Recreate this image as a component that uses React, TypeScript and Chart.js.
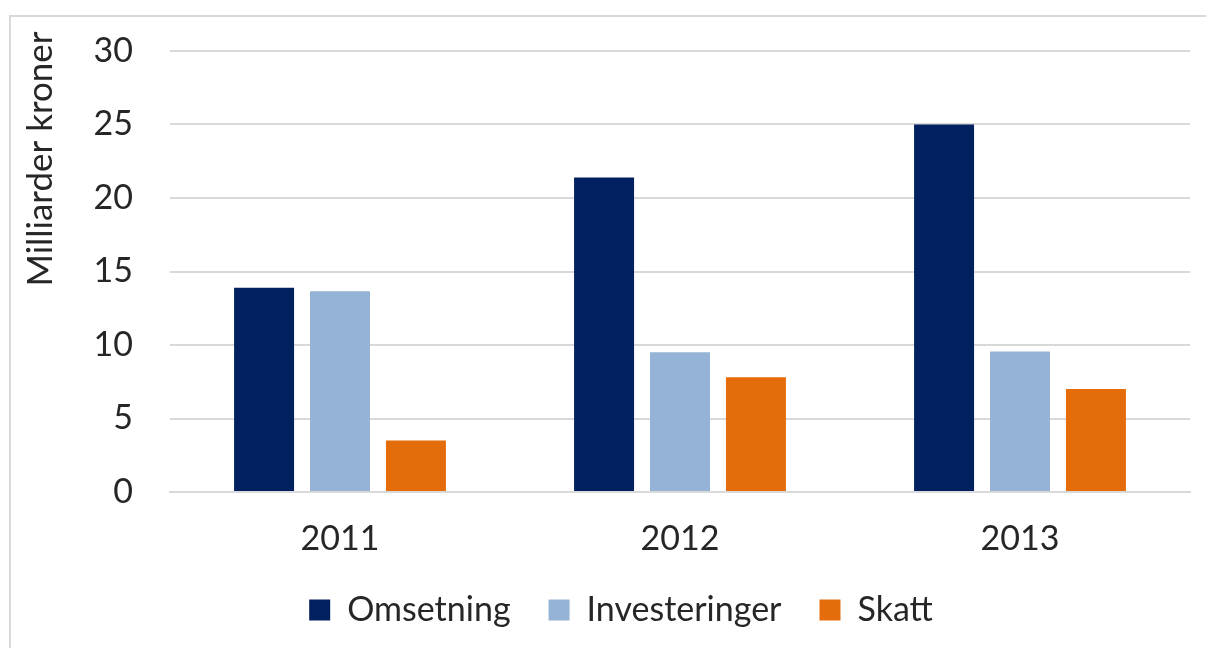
import React, { useEffect, useRef } from "react";
import { Chart, registerables } from "chart.js";

Chart.register(...registerables);

const categories: string[] = ["2011", "2012", "2013"];
const omsetning: number[] = [13.9, 21.4, 25.0];
const investeringer: number[] = [13.65, 9.5, 9.55];
const skatt: number[] = [3.5, 7.8, 7.0];
const seriesNames: string[] = ["Omsetning", "Investeringer", "Skatt"];
const yMin = 0;
const yMax = 30;
const yStep = 5;
const yTitle = "Milliarder kroner";

const FONT = "Lato, 'Noto Sans', sans-serif";
const TEXT = "#262626";
const FS = 34;

const yTitlePlugin = {
  id: "yTitlePlugin",
  afterDraw(chart: any) {
    const ctx = chart.ctx;
    ctx.save();
    ctx.translate(41, 159);
    ctx.rotate(-Math.PI / 2);
    ctx.font = `${FS + 1}px ${FONT}`;
    ctx.fillStyle = TEXT;
    ctx.textAlign = "center";
    ctx.textBaseline = "middle";
    ctx.fillText(yTitle, 0, 0);
    ctx.restore();
  },
};

export default function App() {
  const ref = useRef<HTMLCanvasElement | null>(null);

  useEffect(() => {
    if (!ref.current) return;
    const chart = new Chart(ref.current, {
      type: "bar",
      data: {
        labels: categories,
        datasets: [
          { label: seriesNames[0], data: omsetning, backgroundColor: "#002060", borderWidth: 0 },
          { label: seriesNames[1], data: investeringer, backgroundColor: "#95B3D7", borderWidth: 0 },
          { label: seriesNames[2], data: skatt, backgroundColor: "#E46C0A", borderWidth: 0 },
        ],
      },
      plugins: [yTitlePlugin],
      options: {
        animation: false,
        responsive: false,
        maintainAspectRatio: false,
        datasets: { bar: { categoryPercentage: 0.67, barPercentage: 0.79 } },
        layout: { padding: { left: 52, right: 16, top: 51, bottom: 11 } },
        plugins: {
          tooltip: { enabled: false },
          legend: {
            position: "bottom",
            labels: {
              boxWidth: 21,
              boxHeight: 21,
              color: TEXT,
              font: { family: FONT, size: FS },
              padding: 38,
            },
          },
        },
        scales: {
          x: {
            grid: { display: false, drawTicks: false },
            border: { display: true, color: "#d9d9d9", width: 2 },
            ticks: { color: TEXT, font: { family: FONT, size: FS }, padding: 27 },
            afterFit: (s: any) => { s.height = 63; },
          },
          y: {
            min: yMin,
            max: yMax,
            ticks: { stepSize: yStep, color: TEXT, font: { family: FONT, size: FS, lineHeight: 0.8 }, padding: 37 },
            grid: { color: "#d9d9d9", lineWidth: 2, drawTicks: false },
            border: { display: false },
            title: { display: false },
            afterFit: (s: any) => { s.width = 118; },
          },
        },
      },
    });
    return () => chart.destroy();
  }, []);

  return (
    <div style={{ position: "fixed", left: 0, top: 0, width: 1206, height: 648, background: "#fff", overflow: "hidden" }}>
      <div style={{ position: "absolute", left: 9, top: 15, width: 1220, height: 700, border: "2px solid #d9d9d9", boxSizing: "border-box" }} />
      <canvas ref={ref} width={1206} height={648} style={{ position: "absolute", left: 0, top: 0, width: 1206, height: 648 }} />
    </div>
  );
}
